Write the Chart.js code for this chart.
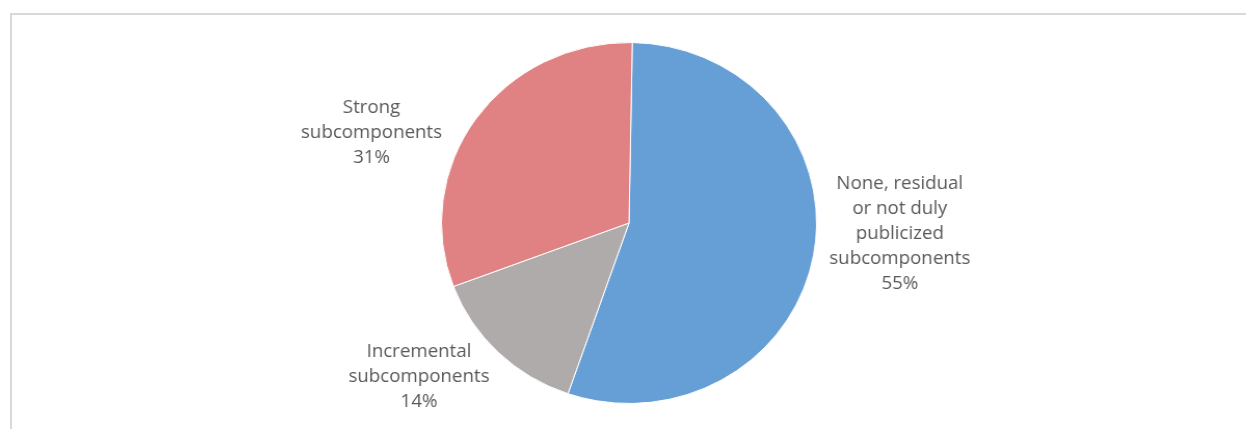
<!DOCTYPE html>
<html>
<head>
<meta charset="utf-8">
<title>Subcomponents</title>
<script src="https://cdn.jsdelivr.net/npm/chart.js@4/dist/chart.umd.min.js"></script>
<style>
  html, body { margin: 0; padding: 0; background: #fff; }
  body { width: 1246px; height: 429px; position: relative; overflow: hidden; }
  #frame {
    position: absolute; left: 10px; top: 13px; width: 1300px; height: 500px;
    border-top: 2px solid #d9d9d9; border-left: 2px solid #d9d9d9;
  }
  /* the original picture is a little wider than tall, so stretch it the same way */
  #wrap {
    position: absolute; left: 0; top: 0; width: 1246px; height: 429px;
    transform: scaleX(1.039); transform-origin: 629px 50%;
  }
</style>
</head>
<body>
<div id="frame"></div>
<div id="wrap"><canvas id="pieChart"></canvas></div>
<script>
const categories = [
  ["None, residual", "or not duly", "publicized", "subcomponents"],
  ["Incremental", "subcomponents"],
  ["Strong", "subcomponents"]
];
const shares = [55, 14, 31];
const percentLabels = ["55%", "14%", "31%"];

const sliceColors = ["#659fd6", "#afabab", "#e08283"];
// label centres, relative to pie centre, in units of the radius
const labelSpots = [[1.444, 0.061], [-1.12, 0.854], [-1.373, -0.497]];

const sliceLabels = {
  id: "sliceLabels",
  afterDatasetsDraw(chart) {
    const ctx = chart.ctx;
    const arcs = chart.getDatasetMeta(0).data;
    ctx.save();
    ctx.font = '18px "Open Sans", sans-serif';
    ctx.fillStyle = "#595959";
    ctx.textAlign = "center";
    ctx.textBaseline = "middle";
    const lineH = 25;
    arcs.forEach((arc, i) => {
      const lines = categories[i].concat([percentLabels[i]]);
      const cx = arc.x + labelSpots[i][0] * arc.outerRadius;
      const cy = arc.y + labelSpots[i][1] * arc.outerRadius;
      const top = cy - (lines.length - 1) * lineH / 2;
      lines.forEach((t, k) => ctx.fillText(t, cx, top + k * lineH));
    });
    ctx.restore();
  }
};

document.addEventListener("DOMContentLoaded", () => {
  const ctx = document.getElementById("pieChart").getContext("2d");
  new Chart(ctx, {
    type: "pie",
    data: {
      labels: categories.map(c => c.join(" ")),
      datasets: [{
        data: shares,
        backgroundColor: sliceColors,
        borderColor: "#ffffff",
        borderWidth: 1
      }]
    },
    options: {
      responsive: true,
      maintainAspectRatio: false,
      animation: false,
      rotation: 1,
      layout: { padding: { left: 12, right: 0, top: 42, bottom: 25 } },
      plugins: {
        legend: { display: false },
        tooltip: { enabled: false }
      }
    },
    plugins: [sliceLabels]
  });
});
</script>
</body>
</html>
